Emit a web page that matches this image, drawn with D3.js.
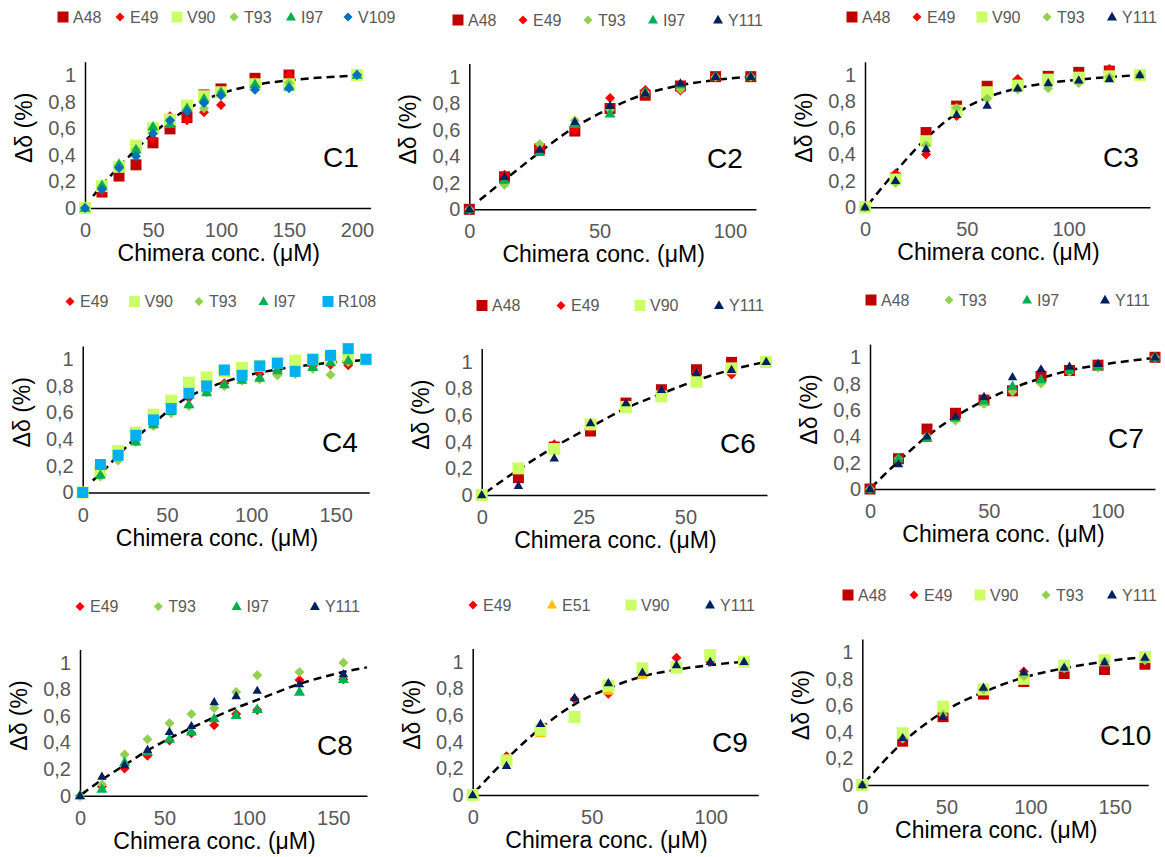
<!DOCTYPE html>
<html><head><meta charset="utf-8">
<script src="https://cdn.jsdelivr.net/npm/d3@7"></script>
<style>body{margin:0;background:#fff}svg{display:block}</style>
</head><body><svg id="chart" width="1165" height="857"></svg>
<script>
// ---------- DATA ----------
const yTicks = [0, 0.2, 0.4, 0.6, 0.8, 1];
const yTickLabels = ["0", "0,2", "0,4", "0,6", "0,8", "1"];

// C1
const c1X = [0, 12.5, 25, 37.5, 50, 62.5, 75, 87.5, 100, 125, 150, 200];
const c1A48 = [0, 0.12, 0.24, 0.325, 0.49, 0.595, 0.68, 0.85, 0.895, 0.975, 1.0, 1.0];
const c1E49 = [0, 0.12, 0.3, 0.42, 0.52, 0.69, 0.66, 0.72, 0.775, 0.96, 1.0, 1.0];
const c1V90 = [0, 0.165, 0.31, 0.47, 0.6, 0.665, 0.77, 0.84, 0.87, 0.93, 0.93, 1.0];
const c1T93 = [0, 0.16, 0.32, 0.44, 0.6, 0.65, 0.74, 0.75, 0.87, 0.92, 0.94, 1.0];
const c1I97 = [0, 0.17, 0.33, 0.44, 0.61, 0.63, 0.75, 0.82, 0.87, 0.93, 0.91, 1.0];
const c1V109 = [0, 0.14, 0.3, 0.39, 0.56, 0.66, 0.725, 0.79, 0.845, 0.89, 0.9, 1.0];
const c1FitX = [6, 12.5, 25, 37.5, 50, 62.5, 75, 87.5, 100, 125, 150, 175, 200];
const c1FitY = [0.09, 0.17, 0.31, 0.44, 0.56, 0.66, 0.74, 0.81, 0.86, 0.925, 0.96, 0.982, 0.995];
const c1XTicks = [0, 50, 100, 150, 200];

// C2
const c2X = [0, 13.5, 27, 40.5, 54, 67.5, 81, 94.5, 108];
const c2A48 = [0, 0.245, 0.455, 0.59, 0.76, 0.86, 0.93, 1.0, 1.0];
const c2E49 = [0, 0.26, 0.46, 0.6, 0.84, 0.9, 0.895, 1.0, 1.0];
const c2T93 = [0, 0.185, 0.49, 0.67, 0.75, 0.88, 0.905, 1.0, 1.0];
const c2I97 = [0, 0.22, 0.43, 0.64, 0.72, 0.88, 0.94, 1.0, 1.0];
const c2Y111 = [0, 0.245, 0.45, 0.66, 0.78, 0.875, 0.95, 1.0, 1.0];
const c2FitX = [4, 13.5, 27, 40.5, 54, 67.5, 81, 94.5, 108];
const c2FitY = [0.07, 0.22, 0.43, 0.62, 0.76, 0.87, 0.935, 0.975, 1.0];
const c2XTicks = [0, 50, 100];

// C3
const c3X = [0, 15, 30, 45, 60, 75, 90, 105, 120, 135];
const c3A48 = [0, 0.22, 0.565, 0.765, 0.915, 0.93, 0.99, 1.02, 1.03, 1.0];
const c3E49 = [0, 0.255, 0.4, 0.69, 0.86, 0.97, 0.98, 1.0, 1.045, 1.0];
const c3V90 = [0, 0.21, 0.5, 0.73, 0.87, 0.92, 0.965, 0.98, 0.99, 1.0];
const c3T93 = [0, 0.185, 0.47, 0.75, 0.82, 0.89, 0.9, 0.94, 0.985, 1.0];
const c3Y111 = [0, 0.2, 0.44, 0.7, 0.77, 0.9, 0.94, 0.96, 0.97, 1.0];
const c3FitX = [1.5, 15, 30, 45, 60, 75, 90, 105, 120, 135];
const c3FitY = [0.02, 0.27, 0.52, 0.71, 0.83, 0.9, 0.94, 0.965, 0.985, 1.0];
const c3XTicks = [0, 50, 100];

// C4
const c4X = [0, 10.5, 21, 31.5, 42, 52.5, 63, 73.5, 84, 94.5, 105, 115.5, 126, 136.5, 147, 157.5, 168];
const c4E49 = [0, 0.14, 0.28, 0.4, 0.51, 0.62, 0.71, 0.76, 0.82, 0.86, 0.89, 0.91, 0.93, 0.95, 0.96, 0.955, 1.0];
const c4V90 = [0, 0.16, 0.31, 0.45, 0.585, 0.69, 0.825, 0.865, 0.91, 0.935, 0.95, 0.975, 0.99, 1.0, 1.01, 1.02, 1.0];
const c4T93 = [0, 0.12, 0.24, 0.38, 0.5, 0.595, 0.65, 0.75, 0.8, 0.84, 0.85, 0.88, 0.89, 0.93, 0.885, 0.98, 1.0];
const c4I97 = [0, 0.13, 0.27, 0.38, 0.51, 0.61, 0.66, 0.75, 0.81, 0.845, 0.86, 0.915, 0.9, 0.94, 0.975, 0.99, 1.0];
const c4R108 = [0, 0.21, 0.28, 0.43, 0.545, 0.63, 0.745, 0.8, 0.92, 0.88, 0.95, 0.97, 0.91, 1.0, 1.03, 1.08, 1.0];
const c4FitX = [6, 10.5, 21, 31.5, 42, 52.5, 63, 73.5, 84, 94.5, 105, 115.5, 126, 136.5, 147, 157.5, 168];
const c4FitY = [0.09, 0.14, 0.28, 0.41, 0.52, 0.63, 0.72, 0.78, 0.83, 0.87, 0.9, 0.925, 0.945, 0.96, 0.975, 0.985, 0.995];
const c4XTicks = [0, 50, 100, 150];

// C6
const c6X = [0, 9, 17.8, 26.7, 35.4, 44.1, 52.7, 61.3, 69.8];
const c6A48 = [0, 0.13, 0.36, 0.48, 0.69, 0.79, 0.94, 0.995, 1.0];
const c6E49 = [0, 0.18, 0.38, 0.5, 0.69, 0.79, 0.92, 0.905, 1.0];
const c6V90 = [0, 0.2, 0.345, 0.53, 0.66, 0.74, 0.85, 0.95, 1.0];
const c6Y111 = [0, 0.07, 0.275, 0.54, 0.69, 0.79, 0.915, 0.94, 1.0];
const c6FitX = [1, 9, 17.8, 26.7, 35.4, 44.1, 52.7, 61.3, 69.8];
const c6FitY = [0.02, 0.19, 0.36, 0.51, 0.65, 0.76, 0.86, 0.94, 1.0];
const c6XTicks = [0, 25, 50];

// C7
const c7X = [0, 12, 24, 36, 48, 60, 72, 84, 96, 120];
const c7A48 = [0, 0.23, 0.455, 0.575, 0.675, 0.745, 0.855, 0.9, 0.94, 1.0];
const c7T93 = [0, 0.23, 0.4, 0.52, 0.645, 0.74, 0.8, 0.89, 0.92, 1.0];
const c7I97 = [0, 0.23, 0.385, 0.54, 0.67, 0.78, 0.83, 0.9, 0.93, 1.0];
const c7Y111 = [0, 0.19, 0.4, 0.55, 0.7, 0.85, 0.91, 0.93, 0.95, 1.0];
const c7FitX = [0.5, 12, 24, 36, 48, 60, 72, 84, 96, 108, 120];
const c7FitY = [0.01, 0.21, 0.4, 0.55, 0.67, 0.765, 0.84, 0.9, 0.94, 0.97, 0.995];
const c7XTicks = [0, 50, 100];

// C8
const c8X = [0, 13, 26.4, 40, 53, 66, 79.5, 92.5, 105, 130, 156];
const c8E49 = [0, 0.07, 0.205, 0.3, 0.415, 0.47, 0.53, 0.615, 0.645, 0.87, 0.875];
const c8T93 = [0, 0.085, 0.31, 0.425, 0.545, 0.615, 0.66, 0.78, 0.905, 0.93, 1.0];
const c8I97 = [0, 0.05, 0.25, 0.33, 0.425, 0.48, 0.58, 0.605, 0.65, 0.78, 0.875];
const c8Y111 = [0, 0.145, 0.23, 0.345, 0.48, 0.525, 0.705, 0.75, 0.79, 0.84, 0.915];
const c8FitX = [1, 13, 26.4, 40, 53, 66, 79.5, 92.5, 105, 130, 156, 170];
const c8FitY = [0.01, 0.12, 0.23, 0.34, 0.43, 0.51, 0.59, 0.66, 0.72, 0.84, 0.93, 0.965];
const c8XTicks = [0, 50, 100, 150];

// C9
const c9X = [0, 14.2, 28.5, 42.8, 57, 71.3, 85.6, 99.8, 114];
const c9E49 = [0, 0.29, 0.47, 0.72, 0.76, 0.91, 1.03, 1.0, 1.0];
const c9E51 = [0, 0.25, 0.46, 0.58, 0.78, 0.9, 0.96, 1.03, 1.0];
const c9V90 = [0, 0.26, 0.49, 0.585, 0.82, 0.95, 0.955, 1.05, 1.0];
const c9Y111 = [0, 0.22, 0.535, 0.73, 0.84, 0.92, 0.975, 1.0, 1.0];
const c9FitX = [1, 14.2, 28.5, 42.8, 57, 71.3, 85.6, 99.8, 114];
const c9FitY = [0.025, 0.27, 0.5, 0.68, 0.8, 0.89, 0.94, 0.975, 1.0];
const c9XTicks = [0, 50, 100];

// C10
const c10X = [0, 24, 48, 72, 96, 120, 144, 168];
const c10A48 = [0, 0.33, 0.515, 0.685, 0.78, 0.84, 0.87, 0.91];
const c10E49 = [0, 0.34, 0.53, 0.71, 0.855, 0.88, 0.93, 0.94];
const c10V90 = [0, 0.39, 0.59, 0.72, 0.8, 0.9, 0.94, 0.965];
const c10T93 = [0, 0.35, 0.53, 0.72, 0.82, 0.88, 0.93, 0.94];
const c10Y111 = [0, 0.355, 0.515, 0.735, 0.85, 0.885, 0.925, 0.96];
const c10FitX = [1.5, 24, 48, 72, 96, 120, 144, 168];
const c10FitY = [0.02, 0.32, 0.55, 0.7, 0.81, 0.88, 0.93, 0.965];
const c10XTicks = [0, 50, 100, 150];

const panels = [
  {id: "C1", x: c1X, xTicks: c1XTicks, fitX: c1FitX, fitY: c1FitY,
   series: [["A48", c1A48], ["E49", c1E49], ["V90", c1V90], ["T93", c1T93], ["I97", c1I97], ["V109", c1V109]]},
  {id: "C2", x: c2X, xTicks: c2XTicks, fitX: c2FitX, fitY: c2FitY,
   series: [["A48", c2A48], ["E49", c2E49], ["T93", c2T93], ["I97", c2I97], ["Y111", c2Y111]]},
  {id: "C3", x: c3X, xTicks: c3XTicks, fitX: c3FitX, fitY: c3FitY,
   series: [["A48", c3A48], ["E49", c3E49], ["V90", c3V90], ["T93", c3T93], ["Y111", c3Y111]]},
  {id: "C4", x: c4X, xTicks: c4XTicks, fitX: c4FitX, fitY: c4FitY,
   series: [["E49", c4E49], ["V90", c4V90], ["T93", c4T93], ["I97", c4I97], ["R108", c4R108]]},
  {id: "C6", x: c6X, xTicks: c6XTicks, fitX: c6FitX, fitY: c6FitY,
   series: [["A48", c6A48], ["E49", c6E49], ["V90", c6V90], ["Y111", c6Y111]]},
  {id: "C7", x: c7X, xTicks: c7XTicks, fitX: c7FitX, fitY: c7FitY,
   series: [["A48", c7A48], ["T93", c7T93], ["I97", c7I97], ["Y111", c7Y111]]},
  {id: "C8", x: c8X, xTicks: c8XTicks, fitX: c8FitX, fitY: c8FitY,
   series: [["E49", c8E49], ["T93", c8T93], ["I97", c8I97], ["Y111", c8Y111]]},
  {id: "C9", x: c9X, xTicks: c9XTicks, fitX: c9FitX, fitY: c9FitY,
   series: [["E49", c9E49], ["E51", c9E51], ["V90", c9V90], ["Y111", c9Y111]]},
  {id: "C10", x: c10X, xTicks: c10XTicks, fitX: c10FitX, fitY: c10FitY,
   series: [["A48", c10A48], ["E49", c10E49], ["V90", c10V90], ["T93", c10T93], ["Y111", c10Y111]]}
];

// ---------- LAYOUT & STYLE ----------
const layouts = {
  C1:  {xMax: 210, x0: 85,    x1: 370.6, y0: 208,   yTop: 61.7,  lx: 63,  ly: 17,    ls: 57,   cx: 323,  cy: 167},
  C2:  {xMax: 110, x0: 469.3, x1: 756,   y0: 209.3, yTop: 63.4,  lx: 458, ly: 20,    ls: 65,   cx: 707,  cy: 168},
  C3:  {xMax: 140, x0: 865,   x1: 1150,  y0: 207.3, yTop: 61.8,  lx: 852, ly: 17,    ls: 65,   cx: 1103, cy: 167},
  C4:  {xMax: 170, x0: 82.7,  x1: 369.3, y0: 492.5, yTop: 346,   lx: 70,  ly: 301.5, ls: 64.5, cx: 322,  cy: 452},
  C6:  {xMax: 70,  x0: 481.7, x1: 767,   y0: 495,   yTop: 348.4, lx: 482, ly: 305.5, ls: 79,   cx: 720,  cy: 453},
  C7:  {xMax: 120, x0: 870,   x1: 1155,  y0: 489,   yTop: 344.1, lx: 871, ly: 300,   ls: 78,   cx: 1108, cy: 448},
  C8:  {xMax: 170, x0: 80,    x1: 367,   y0: 795.7, yTop: 649.4, lx: 80,  ly: 606.5, ls: 78.3, cx: 317,  cy: 755},
  C9:  {xMax: 120, x0: 472.7, x1: 758.3, y0: 795,   yTop: 648.4, lx: 473, ly: 605,   ls: 79,   cx: 712,  cy: 752},
  C10: {xMax: 170, x0: 862.3, x1: 1148.3,y0: 785,   yTop: 639,   lx: 848, ly: 595,   ls: 66,   cx: 1100, cy: 745}
};

const styles = {
  A48:  {color: "#C00000", shape: "square",   size: 11},
  E49:  {color: "#FF0000", shape: "diamond",  size: 10},
  V90:  {color: "#CCFF66", shape: "square",   size: 12},
  T93:  {color: "#92D050", shape: "diamond",  size: 10},
  I97:  {color: "#00B050", shape: "triangle", size: 11},
  V109: {color: "#0070C0", shape: "diamond",  size: 10},
  Y111: {color: "#002060", shape: "triangle", size: 9.5},
  R108: {color: "#00B0F0", shape: "square",   size: 11},
  E51:  {color: "#FFC000", shape: "triangle", size: 11}
};

const FONT = "'Liberation Sans', Arial, sans-serif";

function symbolPath(shape, size) {
  if (shape === "square") return d3.symbol(d3.symbolSquare, size * size)();
  if (shape === "diamond") return d3.symbol(d3.symbolSquare, size * size / 2)();
  return d3.symbol(d3.symbolTriangle, Math.sqrt(3) / 4 * size * size)();
}
function symbolTransform(shape, x, y) {
  if (shape === "diamond") return `translate(${x},${y}) rotate(45)`;
  if (shape === "triangle") return `translate(${x},${y + 0.5})`;
  return `translate(${x},${y})`;
}

const svg = d3.select("#chart");
svg.append("rect").attr("width", 1165).attr("height", 857).attr("fill", "#fff");

panels.forEach(p => {
  const L = layouts[p.id];
  const xs = d3.scaleLinear().domain([0, L.xMax]).range([L.x0, L.x1]);
  const ys = d3.scaleLinear().domain([0, 1.1]).range([L.y0, L.yTop]);
  const g = svg.append("g").attr("class", "panel-" + p.id);

  // axes
  const xAxis = g.append("g").attr("transform", `translate(0,${L.y0})`)
    .call(d3.axisBottom(xs).tickValues(p.xTicks).tickSize(0).tickSizeOuter(0).tickPadding(15).tickFormat(d3.format("d")));
  const yAxis = g.append("g").attr("transform", `translate(${L.x0},0)`)
    .call(d3.axisLeft(ys).tickValues(yTicks).tickSize(0).tickSizeOuter(0).tickPadding(9)
      .tickFormat((d, i) => yTickLabels[i]));
  [xAxis, yAxis].forEach(a => {
    a.select(".domain").attr("stroke", "#000").attr("stroke-width", 1.5);
    a.selectAll("text").attr("fill", "#595959").style("font-family", FONT).style("font-size", "20px");
  });

  // axis titles
  g.append("text")
    .attr("x", (L.x0 + L.x1) / 2 - 9).attr("y", L.y0 + 53)
    .attr("text-anchor", "middle").attr("fill", "#000")
    .style("font-family", FONT).style("font-size", "23px")
    .text("Chimera conc. (μM)");
  g.append("text")
    .attr("transform", `translate(${L.x0 - 53},${(L.y0 + L.yTop) / 2 - 7}) rotate(-90)`)
    .attr("text-anchor", "middle").attr("fill", "#000")
    .style("font-family", FONT).style("font-size", "23px")
    .text("Δδ (%)");

  // panel label
  g.append("text").attr("x", L.cx).attr("y", L.cy).attr("fill", "#000")
    .style("font-family", FONT).style("font-size", "28px").text(p.id);

  // fit line
  const fitPts = p.fitX.map((v, i) => [v, p.fitY[i]]);
  g.append("path").datum(fitPts)
    .attr("d", d3.line().x(d => xs(d[0])).y(d => ys(d[1])).curve(d3.curveMonotoneX))
    .attr("fill", "none").attr("stroke", "#000").attr("stroke-width", 2.5)
    .attr("stroke-dasharray", "8,5");

  // series markers
  p.series.forEach(([name, vals]) => {
    const st = styles[name];
    const pts = p.x.map((v, i) => [v, vals[i]]);
    g.append("g").selectAll("path").data(pts).join("path")
      .attr("d", symbolPath(st.shape, st.size))
      .attr("transform", d => symbolTransform(st.shape, xs(d[0]), ys(d[1])))
      .attr("fill", st.color);
  });

  // legend
  p.series.forEach(([name], i) => {
    const st = styles[name];
    const mx = L.lx + i * L.ls;
    const ls = st.shape === "diamond" ? 9 : (st.shape === "triangle" ? 10 : 11);
    g.append("path").attr("d", symbolPath(st.shape, ls))
      .attr("transform", symbolTransform(st.shape, mx, L.ly)).attr("fill", st.color);
    g.append("text").attr("x", mx + 10).attr("y", L.ly).attr("dy", "0.35em")
      .attr("fill", "#595959").style("font-family", FONT).style("font-size", "16px")
      .text(name);
  });
});
</script>
</body></html>
